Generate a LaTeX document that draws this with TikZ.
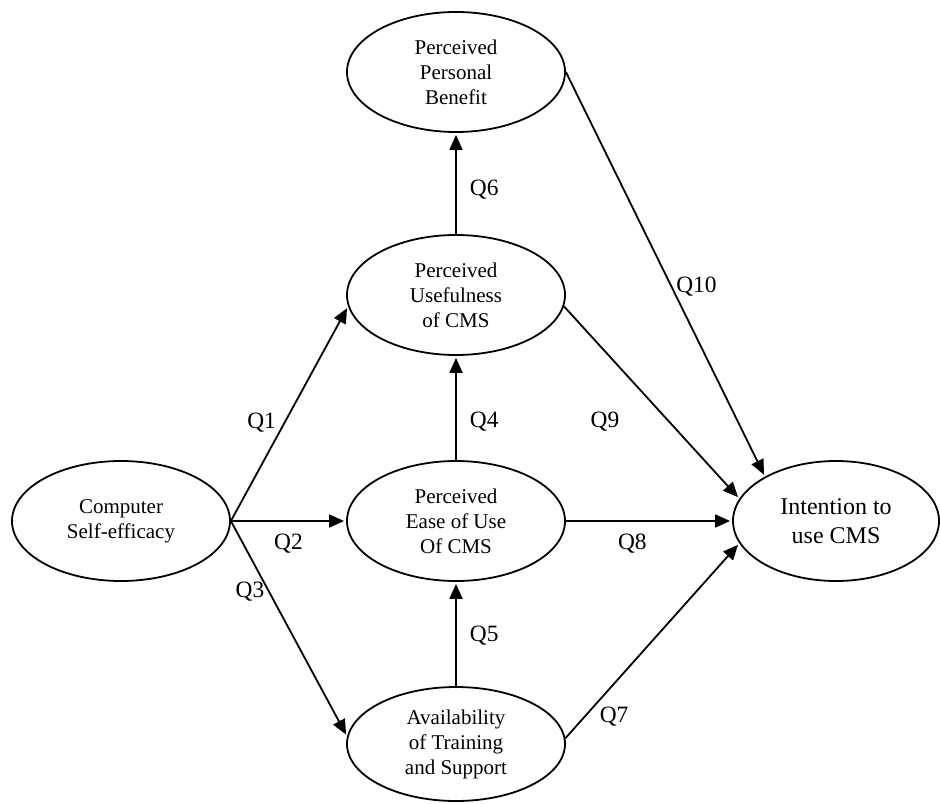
\documentclass[tikz,border=0pt]{standalone}
\usepackage{fontspec}
\setmainfont{Liberation Serif}
\usetikzlibrary{shapes.geometric, positioning, arrows.meta}

\tikzset{
  construct/.style={ellipse, draw, on grid, minimum width=109pt, minimum height=60pt,
    inner sep=0pt, align=center, font=\fontsize{10.5}{12.5}\selectfont},
  qlabel/.style={font=\fontsize{11.7}{14}\selectfont, inner sep=2pt},
}

\begin{document}
\begin{tikzpicture}[shorten >=1pt, node distance=113pt, line width=0.9pt, >={Triangle[length=7.5pt, width=6.5pt]}]

\useasboundingbox (-228pt,-141pt) rectangle (242pt,260.5pt);

% Define the constructs
\node[construct] (ease) {Perceived\\Ease of Use\\Of CMS};
\node[construct] (useful) [above=of ease] {Perceived\\Usefulness\\of CMS};
\node[construct] (benefit) [above=111.5pt of useful] {Perceived\\Personal\\Benefit};
\node[construct, minimum height=57pt] (avail) [below=111.5pt of ease] {Availability\\of Training\\and Support};
\node[construct] (efficacy) [left=167.5pt of ease] {Computer\\Self-efficacy};
\node[construct, minimum width=103pt, font=\fontsize{12}{14.5}\selectfont] (intent) [right=190pt of ease] {Intention to\\use CMS};

% Hypotheses
\path[->]
    (efficacy.east) edge node[qlabel, pos=.46, left=2pt] {Q1} (useful.186)
                    edge node[qlabel, pos=.5, below=4pt] {Q2} (ease.west)
                    edge node[qlabel, pos=.33, left=0pt] {Q3} (avail.176)
    (ease.north) edge node[qlabel, pos=.37, right=4.5pt] {Q4} (useful.south)
    (avail.north) edge node[qlabel, pos=.48, right=4.5pt] {Q5} (ease.south)
    (useful.north) edge node[qlabel, pos=.44, right=4.5pt] {Q6} (benefit.south)
    (avail.3) edge node[qlabel, pos=.28, below=9pt] {Q7} (intent.193)
    (ease.east) edge node[qlabel, pos=.4, below=4pt] {Q8} (intent.west)
    (useful.354) edge node[qlabel, pos=.6, left=22.5pt] {Q9} (intent.167)
    (benefit.east) edge node[qlabel, pos=.53, right=0pt] {Q10} (intent.148);

\end{tikzpicture}
\end{document}
